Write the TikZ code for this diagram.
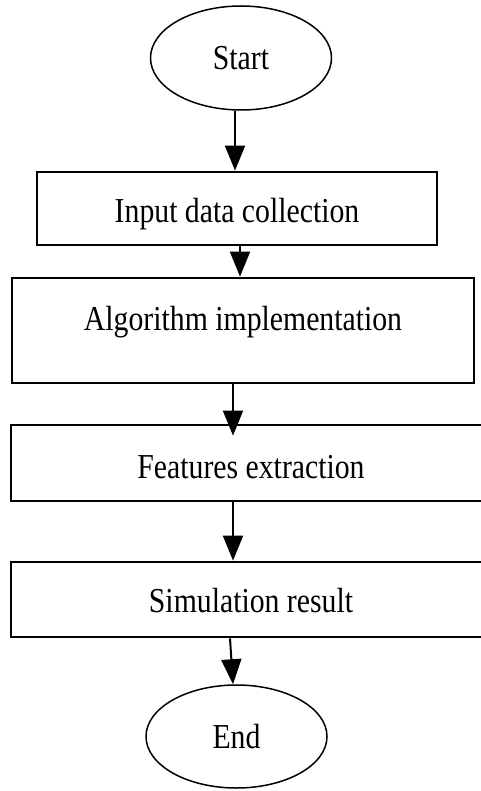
\documentclass[tikz,border=0pt]{standalone}
\usepackage{fontspec}
\setmainfont{Liberation Serif}
\usepackage{graphicx}
\usetikzlibrary{arrows.meta,shapes.geometric}
\newcommand{\cnd}[1]{\scalebox{0.85}[1]{#1}}
\begin{document}
\begin{tikzpicture}[x=1pt,y=-1pt,
  font=\fontsize{35}{40}\selectfont,
  oval/.style={ellipse, draw, line width=1.5pt, inner sep=0pt, minimum width=181pt},
  box/.style={rectangle, draw, line width=2.8pt, inner sep=0pt},
  arr/.style={line width=2pt, -{Triangle[width=20pt,length=25pt]}}]
\useasboundingbox (0,0) rectangle (481,791);
\clip (0,0) rectangle (481,791);

\node[oval, minimum height=104pt, text height=24pt, text depth=0pt] (start) at (241,58) {\cnd{Start}};
\node[box, minimum width=400pt, minimum height=73pt, text height=29pt, text depth=0pt] (in1) at (237,208.5) {\cnd{Input data collection}};
\node[box, minimum width=462pt, minimum height=105pt, text height=25pt, text depth=25pt] (alg) at (243,330.5) {\cnd{Algorithm implementation}};
\node[box, minimum width=480pt, minimum height=76pt, text height=30pt, text depth=0pt] (feat) at (251,463) {\cnd{Features extraction}};
\node[box, minimum width=480pt, minimum height=75pt, text height=25pt, text depth=0pt] (sim) at (251,599.5) {\cnd{Simulation result}};
\node[oval, minimum height=103pt, text height=23pt, text depth=0pt] (end) at (236.5,736.5) {\cnd{End}};

\draw[arr] ([xshift=-6pt]start.south) -- ([xshift=-6pt]start.south |- in1.north);
\draw[arr] ([xshift=3pt]in1.south) -- ([xshift=3pt]in1.south |- alg.north);
\draw[arr, shorten >=-12pt] ([xshift=-10pt]alg.south) -- ([xshift=-10pt]alg.south |- feat.north);
\draw[arr] ([xshift=-18pt]feat.south) -- ([xshift=-18pt]feat.south |- sim.north);
\draw[arr] ([xshift=-21pt]sim.south) -- ([xshift=-3.5pt]end.north);
\end{tikzpicture}
\end{document}
